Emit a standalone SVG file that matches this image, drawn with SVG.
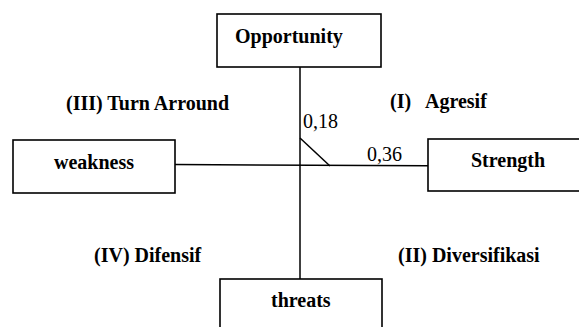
<svg xmlns="http://www.w3.org/2000/svg" width="579" height="327" viewBox="0 0 579 327">
<style>
.box{fill:#fff;stroke:#000;stroke-width:1.6}
.ln{stroke:#000;stroke-width:1.5;fill:none}
</style>
<rect width="579" height="327" fill="#fff"/>
<g id="connectors">
<line class="ln" x1="300" y1="67" x2="300" y2="279"/>
<line class="ln" x1="175" y1="164.5" x2="428" y2="165.8"/>
<line class="ln" x1="300" y1="138" x2="330" y2="166"/>
</g>
<g font-family="Liberation Serif, serif" font-size="20" font-weight="bold" fill="#000">
<g id="opportunity"><rect class="box" x="217" y="14" width="164" height="53"/><text x="235" y="43">Opportunity</text></g>
<g id="weakness"><rect class="box" x="13" y="140" width="162" height="53"/><text x="54" y="169">weakness</text></g>
<g id="strength"><rect class="box" x="428" y="139" width="160" height="52"/><text x="471" y="167">Strength</text></g>
<g id="threats"><rect class="box" x="220" y="279" width="162" height="60"/><text x="271" y="307">threats</text></g>
<g id="labels">
<text x="303" y="128" font-weight="normal">0,18</text>
<text x="367" y="161" font-weight="normal">0,36</text>
<text x="66" y="110">(III) Turn Arround</text>
<text x="390" y="108">(I)<tspan x="425">Agresif</tspan></text>
<text x="94" y="262">(IV) Difensif</text>
<text x="398" y="262">(II) Diversifikasi</text>
</g>
</g>
</svg>
